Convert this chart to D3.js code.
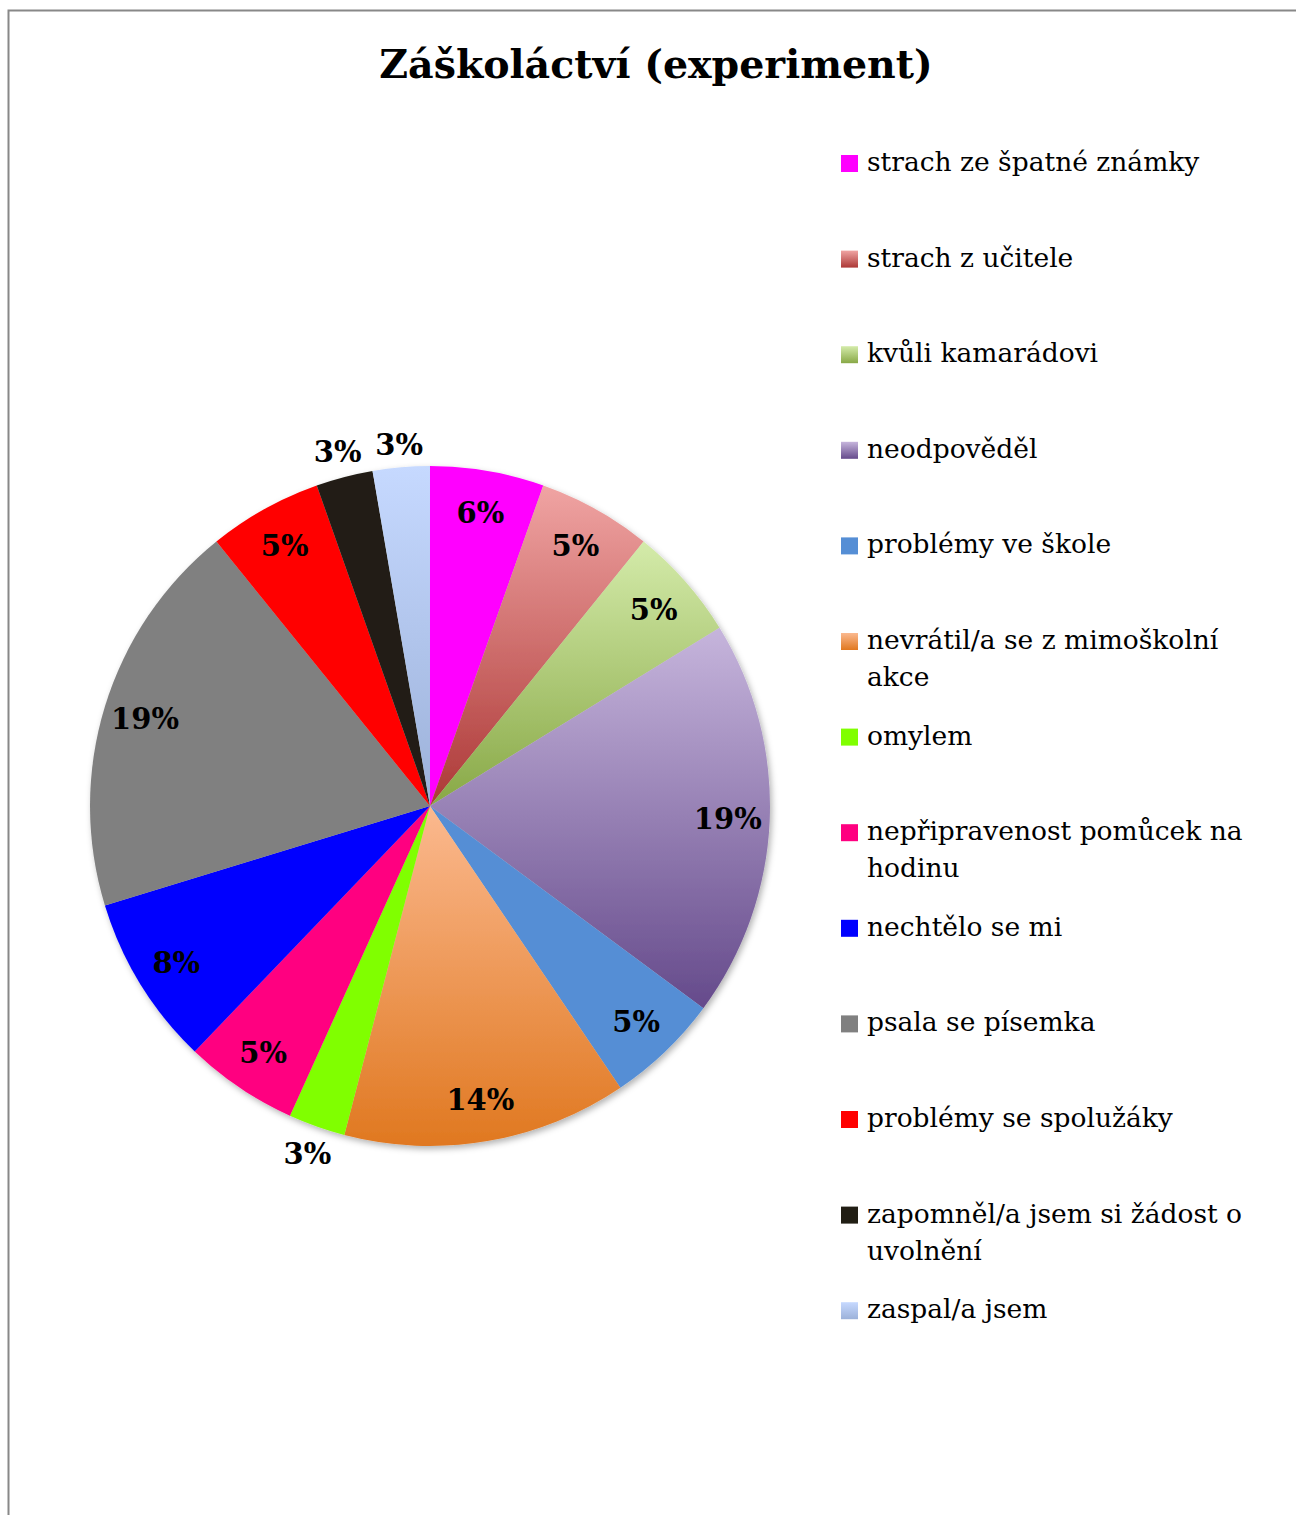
<!DOCTYPE html>
<html lang="cs">
<head>
<meta charset="UTF-8">
<title>Záškoláctví (experiment)</title>
<script src="https://d3js.org/d3.v7.min.js"></script>
<style>
    body { margin: 0; background: #fff; }
    text { font-family: "DejaVu Serif", "Liberation Serif", serif; fill: #000; }
</style>
</head>
<body>
<div id="chart"></div>
<script>
// data (answers, n = 37)
const categories = [
    "strach ze špatné známky",
    "strach z učitele",
    "kvůli kamarádovi",
    "neodpověděl",
    "problémy ve škole",
    "nevrátil/a se z mimoškolní akce",
    "omylem",
    "nepřipravenost pomůcek na hodinu",
    "nechtělo se mi",
    "psala se písemka",
    "problémy se spolužáky",
    "zapomněl/a jsem si žádost o uvolnění",
    "zaspal/a jsem"
];
const values = [2, 2, 2, 7, 2, 5, 1, 2, 3, 7, 2, 1, 1];
const percentLabels = ["6%", "5%", "5%", "19%", "5%", "14%", "3%", "5%", "8%", "19%", "5%", "3%", "3%"];

// slice fills: top / bottom of a vertical gradient (same = solid)
const colorTop = ["#ff00ff", "#f0a4a3", "#d4ebaa", "#c6b5dc", "#558ed5", "#fbb98f", "#80ff00", "#ff0080", "#0000ff", "#808080", "#ff0000", "#211e14", "#c6d9ff"];
const colorBottom = ["#ff00ff", "#ac3836", "#88a846", "#654a8b", "#558ed5", "#e07820", "#80ff00", "#ff0080", "#0000ff", "#808080", "#ff0000", "#211e14", "#9cb1d9"];

const W = 1296, H = 1515;
const cx = 430, cy = 806, R = 340;

const svg = d3.select("#chart").append("svg")
    .attr("width", W)
    .attr("height", H);

const defs = svg.append("defs");
categories.forEach((c, i) => {
    const g = defs.append("linearGradient")
        .attr("id", "grad" + i)
        .attr("x1", 0).attr("y1", 0).attr("x2", 0).attr("y2", 1);
    g.append("stop").attr("offset", "0%").attr("stop-color", colorTop[i]);
    g.append("stop").attr("offset", "100%").attr("stop-color", colorBottom[i]);
});
const shadow = defs.append("filter").attr("id", "shadow")
    .attr("x", "-10%").attr("y", "-10%").attr("width", "120%").attr("height", "120%");
shadow.append("feDropShadow")
    .attr("dx", 2).attr("dy", 3).attr("stdDeviation", 3)
    .attr("flood-color", "#000").attr("flood-opacity", 0.3);

// frame
svg.append("rect")
    .attr("x", 8.5).attr("y", 10.5)
    .attr("width", W).attr("height", H)
    .attr("fill", "none")
    .attr("stroke", "#888")
    .attr("stroke-width", 2);

// title
svg.append("text")
    .attr("x", 656)
    .attr("y", 78)
    .attr("text-anchor", "middle")
    .style("font-weight", "bold")
    .style("font-size", "39.5px")
    .text("Záškoláctví (experiment)");

// pie
const pie = d3.pie().sort(null).value(d => d);
const arcs = pie(values);
const arc = d3.arc().innerRadius(0).outerRadius(R);
const inLabel = d3.arc().innerRadius(298).outerRadius(298);
const total = d3.sum(values);

// small slices get their label just outside the rim (box edge 6px off)
function outsidePos(d) {
    const a = (d.startAngle + d.endAngle) / 2;
    const sx = Math.sin(a), sy = -Math.cos(a);
    const r = R + 6 + Math.abs(sx) * 24 + Math.abs(sy) * 15;
    return [r * sx, r * sy];
}

const g = svg.append("g").attr("transform", `translate(${cx},${cy})`);

g.append("g")
    .attr("filter", "url(#shadow)")
    .selectAll("path")
    .data(arcs)
    .join("path")
    .attr("d", arc)
    .attr("fill", (d, i) => `url(#grad${i})`);

g.selectAll(".lbl")
    .data(arcs)
    .join("text")
    .attr("class", "lbl")
    .attr("transform", d => {
        const p = d.data / total < 0.04 ? outsidePos(d) : inLabel.centroid(d);
        return `translate(${p})`;
    })
    .attr("text-anchor", "middle")
    .attr("dy", "0.36em")
    .style("font-weight", "bold")
    .style("font-size", "29px")
    .text((d, i) => percentLabels[i]);

// legend
const legendY = d3.scalePoint()
    .domain(categories)
    .range([163, 163 + 95.6 * (categories.length - 1)]);

const legend = svg.append("g");
const item = legend.selectAll("g")
    .data(categories)
    .join("g")
    .attr("transform", d => `translate(841,${legendY(d)})`);

item.append("rect")
    .attr("x", 0).attr("y", -8)
    .attr("width", 17).attr("height", 17)
    .attr("fill", (d, i) => `url(#grad${i})`);

const maxW = 400;
item.append("text")
    .style("font-size", "26.5px")
    .each(function (d) {
        const t = d3.select(this);
        const words = d.split(" ");
        let line = [];
        let ts = t.append("tspan").attr("x", 26).attr("dy", "0.3em");
        words.forEach(w => {
            line.push(w);
            ts.text(line.join(" "));
            if (ts.node().getComputedTextLength() > maxW && line.length > 1) {
                line.pop();
                ts.text(line.join(" "));
                line = [w];
                ts = t.append("tspan").attr("x", 26).attr("dy", 37).text(w);
            }
        });
    });
</script>
</body>
</html>
